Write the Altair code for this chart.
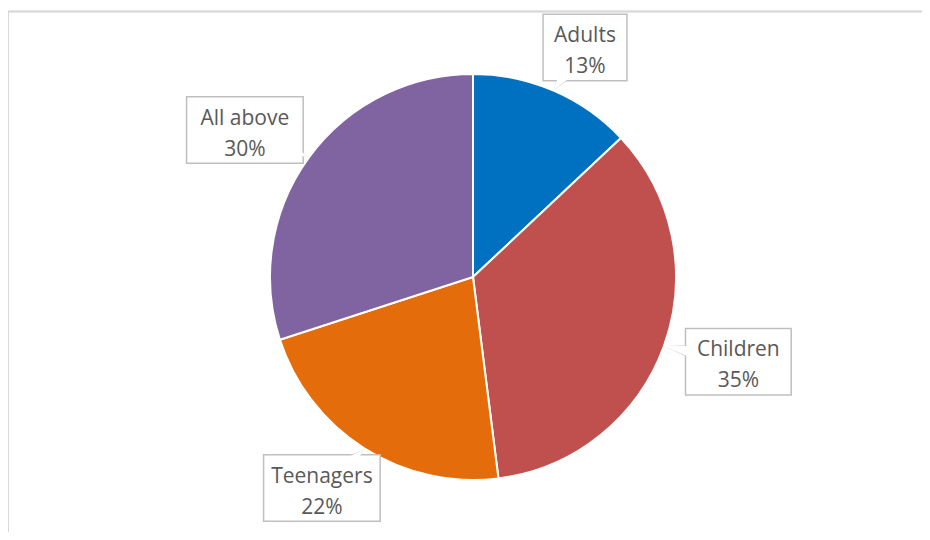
import altair as alt
import pandas as pd

# ---- data ----
categories = ["Adults", "Children", "Teenagers", "All above"]
values = [13, 35, 22, 30]
colors = ["#0070C0", "#C0504D", "#E46C0A", "#8064A2"]

# ---- layout ----
W, H = 914, 524
CX, CY, R = 465, 269, 203
LRX, LRY = 282, 250      # label ellipse radii
TIP = 205                # callout pointer tip radius
BOX_H = 65
LINE_H = 31
WEDGE = 36               # callout wedge width at box centre

df = pd.DataFrame({"category": categories, "value": values,
                   "order": list(range(len(categories)))})

color_scale = alt.Scale(domain=categories, range=colors)

pie = alt.Chart(df).mark_arc(outerRadius=R, stroke="white", strokeWidth=2).encode(
    theta=alt.Theta("value:Q", stack=True),
    color=alt.Color("category:N", scale=color_scale, legend=None),
    order=alt.Order("order:Q"),
    x=alt.value(CX),
    y=alt.value(CY),
)

lab = (
    alt.Chart(df)
    .transform_window(cum="sum(value)", sort=[alt.SortField("order")], frame=[None, 0])
    .transform_joinaggregate(total="sum(value)")
    .transform_calculate(
        mid="(datum.cum - datum.value/2) / datum.total * 2 * PI",
        pct="round(datum.value / datum.total * 100) + '%'",
    )
    .transform_calculate(
        lx=f"{CX} + {LRX} * sin(datum.mid)",
        ly=f"{CY} - {LRY} * cos(datum.mid)",
        tx=f"{CX} + {TIP} * sin(datum.mid)",
        ty=f"{CY} - {TIP} * cos(datum.mid)",
        bw="10.9 * length(datum.category) + 17",
        label="datum.category + '\\n' + datum.pct",
    )
    .transform_calculate(
        bx1="datum.lx - datum.bw / 2",
        bx2="datum.lx + datum.bw / 2",
        by1=f"datum.ly - {BOX_H / 2}",
        by2=f"datum.ly + {BOX_H / 2}",
    )
)

wedge_base = (
    lab.transform_fold(["tx", "lx"], as_=["end", "px"])
    .transform_calculate(
        py="datum.end == 'tx' ? datum.ty : datum.ly",
        k="datum.end == 'tx' ? 0 : 1",
    )
)

wedge_outline = wedge_base.transform_calculate(s=f"datum.k * {WEDGE}").mark_trail(
    color="#BFBFBF"
).encode(
    x=alt.X("px:Q", scale=None, axis=None),
    y=alt.Y("py:Q", scale=None, axis=None),
    size=alt.Size("s:Q", scale=None, legend=None),
    detail="category:N",
    order="k:Q",
)

wedge_fill = wedge_base.transform_calculate(s=f"datum.k * {WEDGE - 4}").mark_trail(
    color="white"
).encode(
    x=alt.X("px:Q", scale=None, axis=None),
    y=alt.Y("py:Q", scale=None, axis=None),
    size=alt.Size("s:Q", scale=None, legend=None),
    detail="category:N",
    order="k:Q",
)

box = lab.mark_rect(fill="white", stroke="#BFBFBF", strokeWidth=3).encode(
    x=alt.X("bx1:Q", scale=None, axis=None),
    x2="bx2:Q",
    y=alt.Y("by1:Q", scale=None, axis=None),
    y2="by2:Q",
)

box_inner = lab.mark_rect(fill="white").encode(
    x=alt.X("bx1:Q", scale=None, axis=None),
    x2="bx2:Q",
    y=alt.Y("by1:Q", scale=None, axis=None),
    y2="by2:Q",
)

text = lab.mark_text(
    font="Open Sans", fontSize=21, color="#595959", lineBreak="\n",
    lineHeight=LINE_H, align="center", baseline="middle", dy=-LINE_H / 2 + 4,
).encode(
    x=alt.X("lx:Q", scale=None, axis=None),
    y=alt.Y("ly:Q", scale=None, axis=None),
    text="label:N",
)

frame_left = alt.Chart(df).mark_rule(color="#D9D9D9", strokeWidth=1.5).encode(
    x=alt.value(0), y=alt.value(3.5), y2=alt.value(H)
)
frame_top = alt.Chart(df).mark_rule(color="#D9D9D9", strokeWidth=1.5).encode(
    x=alt.value(0), x2=alt.value(W), y=alt.value(3.5)
)

chart = (
    alt.layer(frame_left, frame_top, pie, box, wedge_outline, wedge_fill, box_inner, text)
    .properties(width=W, height=H, padding=0, autosize="none", background="white")
    .configure_view(stroke=None)
)

chart.save("out.html", embed_options={"renderer": "svg", "actions": False})
